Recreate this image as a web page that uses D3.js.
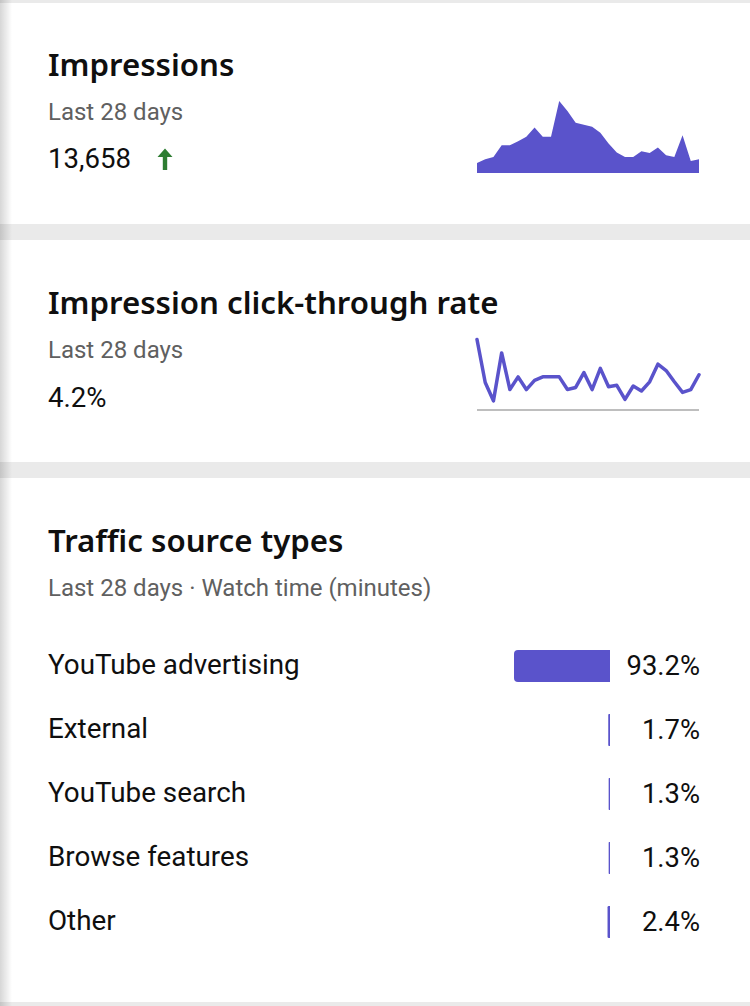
<!DOCTYPE html>
<html>
<head>
<meta charset="utf-8">
<script src="https://cdn.jsdelivr.net/npm/d3@7/dist/d3.min.js"></script>
<style>
  html, body { margin: 0; padding: 0; background: #fff; }
  svg { display: block; }
</style>
</head>
<body>
<svg id="chart" width="750" height="1006"></svg>
<script>
// ---- data ----
const days = [1,2,3,4,5,6,7,8,9,10,11,12,13,14,15,16,17,18,19,20,21,22,23,24,25,26,27,28];
const impressions = [162,221,259,448,448,513,583,734,583,583,1161,999,810,778,745,648,475,329,259,259,351,324,410,286,259,610,194,221];
const ctr = [10.0,3.9,1.3,8.1,2.9,4.7,2.9,4.2,4.7,4.7,4.7,2.9,3.2,5.3,2.9,5.9,3.3,3.5,1.5,3.4,2.7,4.0,6.5,5.6,4.0,2.5,2.9,5.0];
const sources = ["YouTube advertising","External","YouTube search","Browse features","Other"];
const shares = [93.2,1.7,1.3,1.3,2.4];
const shareLabels = ["93.2%","1.7%","1.3%","1.3%","2.4%"];

const PURPLE = "#5a53cb";
const TITLE_FONT = "'Noto Sans', sans-serif";
const BODY_FONT = "Roboto, sans-serif";

const svg = d3.select("#chart");

// background bands
const bands = [[0,3],[224,16],[462,16],[1002,4]];
svg.selectAll("rect.band").data(bands).enter().append("rect")
  .attr("class","band").attr("x",0).attr("y",d=>d[0]).attr("width",750).attr("height",d=>d[1])
  .attr("fill","#eaeaea");

// left shadow
const defs = svg.append("defs");
const g1 = defs.append("linearGradient").attr("id","lshadow").attr("x1",0).attr("x2",1).attr("y1",0).attr("y2",0);
g1.append("stop").attr("offset","0%").attr("stop-color","#000").attr("stop-opacity",0.16);
g1.append("stop").attr("offset","100%").attr("stop-color","#000").attr("stop-opacity",0);
svg.append("rect").attr("x",0).attr("y",0).attr("width",12).attr("height",1006).attr("fill","url(#lshadow)");

function title(txt, y) {
  svg.append("text").attr("x",48).attr("y",y).text(txt)
    .attr("font-family",TITLE_FONT).attr("font-weight",600).attr("font-size",31.2).attr("fill","#0f0f0f");
}
function sub(txt, y) {
  svg.append("text").attr("x",48).attr("y",y).text(txt)
    .attr("font-family",BODY_FONT).attr("font-size",24).attr("fill","#606060");
}
function val(txt, y) {
  return svg.append("text").attr("x",48).attr("y",y).text(txt)
    .attr("font-family",BODY_FONT).attr("font-size",27.6).attr("fill","#0f0f0f");
}

// ---- Card 1: Impressions ----
title("Impressions", 76);
sub("Last 28 days", 120);
val("13,658", 168);
// green up arrow
svg.append("path")
  .attr("d","M165,148.5 L172.5,157 L167.2,157 L167.2,170 L162.8,170 L162.8,157 L157.5,157 Z")
  .attr("fill","#2e7d32");

const xS = d3.scaleLinear().domain([days[0], days[days.length-1]]).range([477, 699]);
const yImp = d3.scaleLinear().domain([0, d3.max(impressions)]).range([173, 101]);
const area = d3.area().x((d,i)=>xS(days[i])).y0(yImp(0)).y1(d=>yImp(d));
svg.append("path").datum(impressions).attr("d",area).attr("fill",PURPLE);

// ---- Card 2: CTR ----
title("Impression click-through rate", 314);
sub("Last 28 days", 358);
val("4.2%", 407);

const yCtr = d3.scaleLinear().domain([0, d3.max(ctr)]).range([410, 339.5]);
svg.append("line").attr("x1",477).attr("x2",699).attr("y1",yCtr(0)).attr("y2",yCtr(0))
  .attr("stroke","#a8a8a8").attr("stroke-width",1.5);
const line = d3.line().x((d,i)=>xS(days[i])).y(d=>yCtr(d));
svg.append("path").datum(ctr).attr("d",line).attr("fill","none")
  .attr("stroke",PURPLE).attr("stroke-width",3.5).attr("stroke-linejoin","round").attr("stroke-linecap","round");

// ---- Card 3: Traffic source types ----
title("Traffic source types", 552);
sub("Last 28 days \u00b7 Watch time (minutes)", 596);

const yRow = d3.scalePoint().domain(sources).range([666, 922]);
const wS = d3.scaleLinear().domain([0, 100]).range([0, 103]);
const BAR_RIGHT = 610, BAR_H = 32;

function leftRounded(x, y, w, h, r) {
  r = Math.min(r, w / 2, h / 2);
  return `M${x+w},${y} L${x+r},${y} Q${x},${y} ${x},${y+r} L${x},${y+h-r} Q${x},${y+h} ${x+r},${y+h} L${x+w},${y+h} Z`;
}

const rows = svg.selectAll("g.row").data(sources).enter().append("g").attr("class","row");
rows.append("text").attr("x",48).attr("y",d=>yRow(d)+8).text(d=>d)
  .attr("font-family",BODY_FONT).attr("font-size",27.8).attr("fill","#0f0f0f");
rows.append("path")
  .attr("d",(d,i)=>{ const w = wS(shares[i]); return leftRounded(BAR_RIGHT - w, yRow(d) - BAR_H/2, w, BAR_H, 4); })
  .attr("fill",PURPLE);
rows.append("text").attr("x",700).attr("y",d=>yRow(d)+9).attr("text-anchor","end")
  .text((d,i)=>shareLabels[i])
  .attr("font-family",BODY_FONT).attr("font-size",27.4).attr("fill","#0f0f0f");
</script>
</body>
</html>
